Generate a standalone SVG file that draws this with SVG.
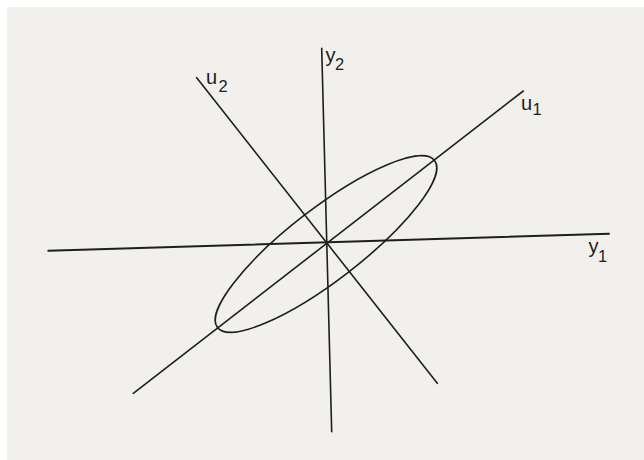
<svg xmlns="http://www.w3.org/2000/svg" width="644" height="460" viewBox="0 0 644 460">
  <style>
    .ax { fill: none; stroke: #1e1e1e; stroke-width: 1.6; stroke-linecap: round; }
    .lbl { font-family: "Liberation Sans", Arial, sans-serif; fill: #1e1e1e; }
    .main { font-size: 20px; }
    .sub { font-size: 16.5px; }
  </style>
  <rect x="0" y="0" width="644" height="460" fill="#ffffff"/>
  <rect x="7" y="7" width="637" height="453" fill="#f2f0ec"/>
  <g id="connectors">
    <line id="axis-y1" class="ax" x1="48.3" y1="250.7" x2="609" y2="233.7" style="stroke-width:2"/>
    <line id="axis-y2" class="ax" x1="321.7" y1="48.3" x2="331.7" y2="431.7"/>
    <line id="axis-u1" class="ax" x1="133.3" y1="393.3" x2="523.3" y2="91"/>
    <line id="axis-u2" class="ax" x1="196.7" y1="77.7" x2="437.3" y2="383.3"/>
  </g>
  <g id="ellipse-node">
    <ellipse class="ax" cx="326" cy="244" rx="137" ry="36" transform="rotate(-37.6 326 244)"/>
  </g>
  <g id="label-y2">
    <text class="lbl main" x="325.5" y="62">y</text>
    <text class="lbl sub" x="335" y="70">2</text>
  </g>
  <g id="label-u2">
    <text class="lbl main" x="206" y="83.5">u</text>
    <text class="lbl sub" x="218.5" y="92">2</text>
  </g>
  <g id="label-u1">
    <text class="lbl main" x="521" y="109.5">u</text>
    <text class="lbl sub" x="532.5" y="114.5">1</text>
  </g>
  <g id="label-y1">
    <text class="lbl main" x="588.5" y="252.5">y</text>
    <text class="lbl sub" x="598" y="262">1</text>
  </g>
</svg>
